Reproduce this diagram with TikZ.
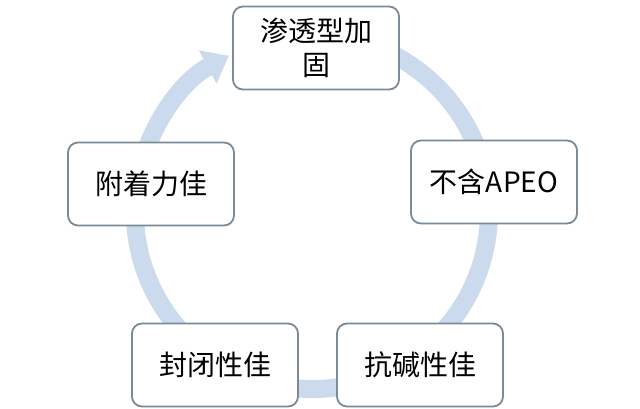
\documentclass[tikz,border=0pt]{standalone}
\usepackage{fontspec}
\newfontfamily\cjk{Noto Sans CJK SC}
\usepackage{tikz}
\usetikzlibrary{arrows.meta,positioning,calc}
\definecolor{ringblue}{RGB}{204,218,238}
\definecolor{boxline}{RGB}{122,138,150}

\begin{document}
\begin{tikzpicture}[x=1pt,y=-1pt,
    stage/.style={draw=boxline,line width=1.8pt,fill=white,rounded corners=10pt,
      minimum width=166pt,minimum height=83pt,align=center,inner sep=2pt,
      font=\cjk\fontsize{28}{34}\selectfont}]
      \useasboundingbox[fill=white] (0,0) rectangle (640,408);
      \coordinate (c) at (312,212);
      % ring behind the boxes
      \draw[ringblue,line width=18pt,-{Triangle[width=36pt,length=24pt]}]
        ($(c)+(-80:177)$) arc[start angle=-80,end angle=242,radius=177];

      \node[stage] at (316,48)(s1){渗透型加\\固};
      \node[stage] at (494,182)(s2){不含APEO}; % right
      \node[stage] at (420,365)(s3){抗碱性佳};
      \node[stage] at (215,365)(s4){封闭性佳};
      \node[stage] at (151,184)(s5){附着力佳}; % left
\end{tikzpicture}
\end{document}
